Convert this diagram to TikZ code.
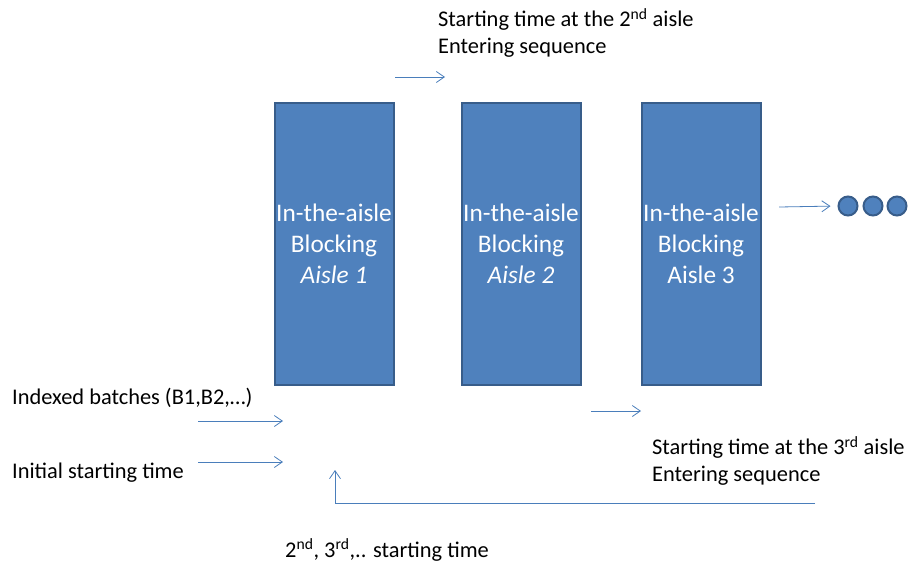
\documentclass[tikz,border=0pt]{standalone}
\usepackage{fontspec}
\setmainfont{Carlito}
\usetikzlibrary{arrows.meta}
\definecolor{boxfill}{HTML}{4F81BD}
\definecolor{boxline}{HTML}{385D8A}
\definecolor{arr}{HTML}{4A7EBB}
\tikzset{
  aislebox/.style={draw=boxline, line width=2pt, fill=boxfill, minimum width=119pt, minimum height=282pt, inner sep=0pt, align=center, text=white, font=\fontsize{25.3}{31}\selectfont},
  lbl/.style={anchor=west, align=left, inner sep=0pt, font=\fontsize{22.4}{27}\selectfont, text=black},
  flow/.style={draw=arr, line width=0.8pt, -{Straight Barb[length=8pt,width=11pt]}},
  dot/.style={circle, draw=boxline, line width=2pt, fill=boxfill, minimum size=19pt, inner sep=0pt},
}
\begin{document}
\begin{tikzpicture}[x=1pt,y=-1pt]
\useasboundingbox (0,0) rectangle (909,565);
\node[aislebox] (a1) at (334,243.5) {In-the-aisle\\Blocking\\\textit{Aisle 1}};
\node[aislebox] (a2) at (521,243.5) {In-the-aisle\\Blocking\\\textit{Aisle 2}};
\node[aislebox] (a3) at (701,243.5) {In-the-aisle\\Blocking\\Aisle 3};
\node[dot] (d1) at (848,206) {};
\node[dot] (d2) at (873,206) {};
\node[dot] (d3) at (897,206) {};
\node[lbl] (t2) at (438,33) {Starting time at the 2\textsuperscript{nd} aisle\\Entering sequence};
\node[lbl] (t3) at (652,461) {Starting time at the 3\textsuperscript{rd} aisle\\Entering sequence};
\node[lbl] (ib) at (12,398) {Indexed batches (B1,B2,…)};
\node[lbl] (ist) at (12,473) {Initial starting time};
\node[lbl] (nst) at (285,550) {2\textsuperscript{nd}, 3\textsuperscript{rd},.. starting time};
\coordinate (p1s) at (395,77); \coordinate (p1e) at (445,77);
\coordinate (p2s) at (198,421); \coordinate (p2e) at (283,421);
\coordinate (p3s) at (198,462); \coordinate (p3e) at (283,462);
\coordinate (p4s) at (591,411); \coordinate (p4e) at (641,411);
\coordinate (p5s) at (779,207);
\coordinate (fbs) at (815,503); \coordinate (fbc) at (335,503); \coordinate (fbe) at (335,470);
\draw[flow] (p1s) -- (p1e);
\draw[flow] (p2s) -- (p2e);
\draw[flow] (p3s) -- (p3e);
\draw[flow] (p4s) -- (p4e);
\draw[flow, shorten >=7pt] (p5s) -- (d1.west);
\draw[flow] (fbs) -- (fbc) -- (fbe);
\end{tikzpicture}
\end{document}
